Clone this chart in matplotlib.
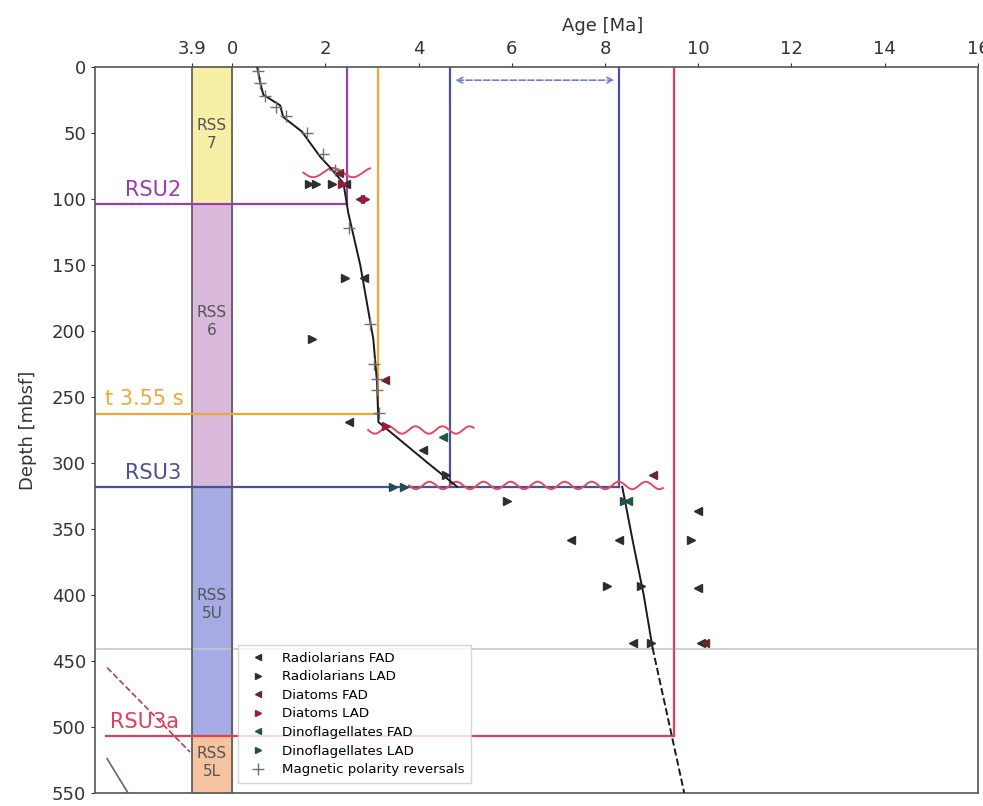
import numpy as np
import matplotlib.pyplot as plt
from matplotlib.lines import Line2D

# age-depth model (Ma, mbsf)
model_age_upper = [0.54, 0.6, 0.67, 1.03, 1.1, 1.5, 1.89, 2.1, 2.39, 2.49, 2.75, 3.03, 3.11, 3.14, 4.2, 4.83]
model_depth_upper = [0, 11, 21, 29, 38, 49, 68, 76, 88, 110, 150, 206, 239, 269, 300, 318]
model_age_lower = [8.37, 8.6, 8.83, 9.02]
model_depth_lower = [318, 360, 400, 440]
model_age_extrap = [9.02, 9.7]
model_depth_extrap = [440, 550]

# biostratigraphic datums (age, depth)
rad_fad_age = [2.45, 2.82, 2.5, 7.26, 8.29, 10.0, 9.99, 8.6, 10.05, 4.1]
rad_fad_depth = [89, 160, 269, 358, 358, 336, 395, 436, 436, 290]
rad_lad_age = [1.65, 1.8, 2.15, 2.43, 1.71, 4.6, 5.9, 9.84, 8.05, 8.77, 8.98]
rad_lad_depth = [89, 89, 89, 160, 206, 309, 329, 358, 393, 393, 436]
dia_fad_age = [2.3, 2.75, 3.29, 9.02, 10.15]
dia_fad_depth = [80, 100, 237, 309, 436]
dia_lad_age = [2.35, 2.85, 3.3]
dia_lad_depth = [89, 100, 272]
dino_fad_age = [4.53, 8.5]
dino_fad_depth = [280, 329]
dino_lad_age = [3.45, 3.68, 8.4]
dino_lad_depth = [318, 318, 329]
mag_age = [0.55, 0.6, 0.7, 0.95, 1.15, 1.6, 1.95, 2.2, 2.5, 2.95, 3.05, 3.1, 3.12, 3.15]
mag_depth = [3, 12, 22, 30, 37, 50, 66, 78, 122, 195, 225, 236, 245, 262]

# seismic units (column between 3.9 s and 0)
rss_names = ['RSS\n7', 'RSS\n6', 'RSS\n5U', 'RSS\n5L']
rss_top = [0, 104, 318, 507]
rss_base = [104, 318, 507, 550]
rss_label_depth = [51, 193, 407, 527]
rss_colors = ['#f7efa6', '#d9badc', '#a6abe4', '#f5c39f']

# horizons
hz_names = ['RSU2', 't 3.55 s', 'RSU3', 'RSU3a']
hz_depth = [104, 263, 318, 507]
hz_age_min = [2.47, 3.14, 4.68, 9.47]
hz_age_max = [2.47, 3.14, 8.31, 9.47]
hz_colors = ['#9b3cb0', '#f2a735', '#4b5199', '#e0405a']

# hiatuses (wavy lines)
hiatus_start = [1.53, 2.92, 3.8]
hiatus_end = [2.96, 5.18, 9.24]
hiatus_depth = [80, 275, 317]

col_left = -0.86  # position of the 3.9 s edge of the unit column

fig = plt.figure(figsize=(9.83, 8.06), dpi=100)
ax = fig.add_axes([0.0966, 0.0161, 0.8983, 0.9008])
ax.set_xlim(-2.94, 16)
ax.set_ylim(550, 0)

# unit column
for top, base, c, name, ld in zip(rss_top, rss_base, rss_colors, rss_names, rss_label_depth):
    ax.fill_betweenx([top, base], col_left, 0, color=c, zorder=1)
    ax.text(col_left / 2, ld, name, ha='center', va='center', fontsize=11,
            color='#555555', linespacing=1.25, zorder=3)
ax.axvline(col_left, color='#555555', lw=1.2, zorder=2)
ax.axvline(0, color='#555555', lw=1.2, zorder=2)

# horizons
for name, d, a0, a1, c in zip(hz_names, hz_depth, hz_age_min, hz_age_max, hz_colors):
    x0 = -2.7 if name == 'RSU3a' else -2.94
    ax.plot([x0, a1], [d, d], color=c, lw=1.6, zorder=2)
    ax.plot([a0, a0], [0, d], color=c, lw=1.6, zorder=2)
    if a1 != a0:
        ax.plot([a1, a1], [0, d], color=c, lw=1.6, zorder=2)
ax.text(-2.3, 101, 'RSU2', color=hz_colors[0], fontsize=15, va='bottom')
ax.text(-2.73, 259, 't 3.55 s', color=hz_colors[1], fontsize=15, va='bottom')
ax.text(-2.3, 315, 'RSU3', color=hz_colors[2], fontsize=15, va='bottom')
ax.text(-2.62, 504, 'RSU3a', color=hz_colors[3], fontsize=15, va='bottom')

ax.annotate('', xy=(hz_age_max[2] - 0.05, 10), xytext=(hz_age_min[2] + 0.05, 10),
            arrowprops=dict(arrowstyle='<->', color='#6f82d0', ls='--', lw=1.2))

ax.axhline(441, color='#c8c8c8', lw=1.2, zorder=1)

# lines in the left panel
ax.plot([-2.68, -0.9], [455, 519], color='#b8404a', ls='--', lw=1.2, zorder=2)
ax.plot([-2.68, -2.23], [524, 550], color='#6e5f80', lw=1.2, zorder=2)

# hiatus symbols
for a0, a1, d in zip(hiatus_start, hiatus_end, hiatus_depth):
    xs = np.linspace(a0, a1, 300)
    period = 0.85 if d < 100 else 0.58
    amp = 3.5 if d < 100 else 2.8
    ax.plot(xs, d + amp * np.sin(2 * np.pi * (xs - a0) / period), color='#e04a5f', lw=1.4, zorder=4)

# age model
ax.plot(model_age_upper, model_depth_upper, color='#1a1a1a', lw=1.4, zorder=5)
ax.plot(model_age_lower, model_depth_lower, color='#1a1a1a', lw=1.4, zorder=5)
ax.plot(model_age_extrap, model_depth_extrap, color='#1a1a1a', lw=1.4, ls='--', zorder=5)

ms = 6
ax.plot(rad_fad_age, rad_fad_depth, '<', color='#2e2e2e', ms=ms, ls='none', zorder=6)
ax.plot(rad_lad_age, rad_lad_depth, '>', color='#2e2e2e', ms=ms, ls='none', zorder=6)
ax.plot(dia_fad_age, dia_fad_depth, '<', color='#6a2626', ms=ms, ls='none', zorder=6)
ax.plot(dia_lad_age, dia_lad_depth, '>', color='#9a1a3a', ms=ms, ls='none', zorder=6)
ax.plot(dino_fad_age, dino_fad_depth, '<', color='#1f5a3a', ms=ms, ls='none', zorder=6)
ax.plot(dino_lad_age, dino_lad_depth, '>', color='#1d4d55', ms=ms, ls='none', zorder=6)
ax.plot(mag_age, mag_depth, '+', color='#707070', ms=8, mew=1.0, ls='none', zorder=6)

handles = [
    Line2D([], [], marker='<', color='#2e2e2e', ls='none', ms=5),
    Line2D([], [], marker='>', color='#2e2e2e', ls='none', ms=5),
    Line2D([], [], marker='<', color='#6a2626', ls='none', ms=5),
    Line2D([], [], marker='>', color='#9a1a3a', ls='none', ms=5),
    Line2D([], [], marker='<', color='#1f5a3a', ls='none', ms=5),
    Line2D([], [], marker='>', color='#1d4d55', ls='none', ms=5),
    Line2D([], [], marker='+', color='#707070', ls='none', ms=9),
]
labels = ['Radiolarians FAD', 'Radiolarians LAD', 'Diatoms FAD', 'Diatoms LAD',
          'Dinoflagellates FAD', 'Dinoflagellates LAD', 'Magnetic polarity reversals']
leg = ax.legend(handles, labels, loc='lower left', bbox_to_anchor=(0.162, 0.014),
                borderaxespad=0, fontsize=9.6, frameon=True, labelspacing=0.42,
                handletextpad=0.8, borderpad=0.5, fancybox=False)
leg.get_frame().set_edgecolor('#cccccc')
leg.set_zorder(10)

# axes, ticks
ax.xaxis.tick_top()
ax.xaxis.set_label_position('top')
ax.set_xticks([col_left, 0, 2, 4, 6, 8, 10, 12, 14, 16])
ax.set_xticklabels(['3.9', '0', '2', '4', '6', '8', '10', '12', '14', '16'])
ax.set_yticks(np.arange(0, 551, 50))
ax.tick_params(labelsize=13, colors='#333333', length=3)
ax.set_xlabel('Age [Ma]', fontsize=13, color='#333333')
ax.xaxis.set_label_coords(0.575, 1.05)
ax.set_ylabel('Depth [mbsf]', fontsize=13, color='#333333')
ax.yaxis.set_label_coords(-0.066, 0.5)
for s in ax.spines.values():
    s.set_color('#555555')
    s.set_linewidth(1.2)

fig.savefig('out.png', dpi=100)
